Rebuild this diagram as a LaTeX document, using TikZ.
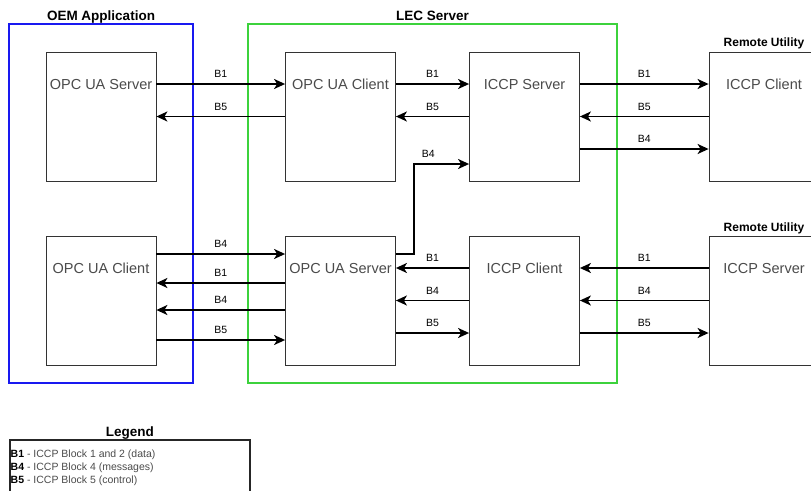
\documentclass[tikz,border=0pt]{standalone}
\usepackage{fontspec}
\setmainfont{Liberation Sans}
\usetikzlibrary{arrows.meta,positioning,calc}
\definecolor{oemBlue}{RGB}{25,25,240}
\definecolor{lecGreen}{RGB}{60,210,60}
\definecolor{boxText}{RGB}{75,75,75}

\begin{document}
\begin{tikzpicture}[
  x=1pt, y=-1pt,
  group/.style={line width=1.6pt, inner sep=0pt, minimum height=359pt},
  grptitle/.style={anchor=base, yshift=3pt, inner sep=0pt,
                   font=\fontsize{13.5}{16}\selectfont\bfseries},
  remtitle/.style={grptitle, font=\fontsize{12}{14}\selectfont\bfseries},
  unittext/.style={anchor=center, yshift=-32.5pt, inner sep=0pt, text=boxText,
                   font=\fontsize{14.5}{17}\selectfont},
  unit/.style={draw=black!80, line width=0.8pt, fill=white, inner sep=0pt,
               minimum width=110pt, minimum height=129pt,
               label={[unittext]north:#1}},
  flow/.style={line width=1.7pt, -{Stealth[length=11pt,width=10pt,inset=3pt]}},
  blk/.style={font=\fontsize{10.5}{12}\selectfont, inner sep=2pt, above=3.5pt},
]

\useasboundingbox (0,0) rectangle (811,490);
\clip (0,0) rectangle (811,490);

% ---------- groups ----------
\node[group, draw=oemBlue, minimum width=184pt,
      label={[grptitle]north:OEM Application}] (oem) at (101,203.5) {};
\node[group, draw=lecGreen, minimum width=369pt,
      label={[grptitle]north:LEC Server}] (lec) at (432.5,203.5) {};

% ---------- units ----------
\node[unit=OPC UA Server] (oemSrv) at (101,116.5) {};
\node[unit=OPC UA Client] (oemCli) at (101,300.5) {};
\node[unit=OPC UA Client] (lecCli) at (340.5,116.5) {};
\node[unit=ICCP Server]   (lecIccpSrv) at (524.5,116.5) {};
\node[unit=OPC UA Server] (lecSrv) at (340.5,300.5) {};
\node[unit=ICCP Client]   (lecIccpCli) at (524.5,300.5) {};
\node[unit=ICCP Client, label={[remtitle, yshift=2pt]north:Remote Utility}]
      (remCli) at (764,116.5) {};
\node[unit=ICCP Server, label={[remtitle, yshift=1pt]north:Remote Utility}]
      (remSrv) at (764,300.5) {};

% ---------- upper flows ----------
\draw[flow] ([yshift=32.5pt]oemSrv.east) -- ([yshift=32.5pt]lecCli.west) node[blk, midway] {B1};
\draw[flow] (lecCli.west) -- (oemSrv.east) node[blk, midway] {B5};
\draw[flow] ([yshift=32.5pt]lecCli.east) -- ([yshift=32.5pt]lecIccpSrv.west) node[blk, midway] {B1};
\draw[flow] (lecIccpSrv.west) -- (lecCli.east) node[blk, midway] {B5};
\draw[flow] ([yshift=32.5pt]lecIccpSrv.east) -- ([yshift=32.5pt]remCli.west) node[blk, midway] {B1};
\draw[flow] (remCli.west) -- (lecIccpSrv.east) node[blk, midway] {B5};
\draw[flow] ([yshift=-32.5pt]lecIccpSrv.east) -- ([yshift=-32.5pt]remCli.west) node[blk, midway] {B4};

% ---------- lower flows ----------
\draw[flow] ([yshift=46.5pt]oemCli.east) -- ([yshift=46.5pt]lecSrv.west) node[blk, midway] {B4};
\draw[flow] ([yshift=17.5pt]lecSrv.west) -- ([yshift=17.5pt]oemCli.east) node[blk, midway] {B1};
\draw[flow] ([yshift=-9.5pt]lecSrv.west) -- ([yshift=-9.5pt]oemCli.east) node[blk, midway] {B4};
\draw[flow] ([yshift=-39.5pt]oemCli.east) -- ([yshift=-39.5pt]lecSrv.west) node[blk, midway] {B5};

\draw[flow] ([yshift=32.5pt]lecIccpCli.west) -- ([yshift=32.5pt]lecSrv.east) node[blk, midway] {B1};
\draw[flow] (lecIccpCli.west) -- (lecSrv.east) node[blk, midway] {B4};
\draw[flow] ([yshift=-32.5pt]lecSrv.east) -- ([yshift=-32.5pt]lecIccpCli.west) node[blk, midway] {B5};

\draw[flow] ([yshift=32.5pt]remSrv.west) -- ([yshift=32.5pt]lecIccpCli.east) node[blk, midway] {B1};
\draw[flow] (remSrv.west) -- (lecIccpCli.east) node[blk, midway] {B4};
\draw[flow] ([yshift=-32.5pt]lecIccpCli.east) -- ([yshift=-32.5pt]remSrv.west) node[blk, midway] {B5};

% messages up to the ICCP server
\draw[flow] ([yshift=46.5pt]lecSrv.east) -- ++(18,0) |- ([yshift=-47.5pt]lecIccpSrv.west)
  node[blk, pos=0.63] {B4};

% ---------- legend ----------
\node[draw=black!85, line width=1.8pt, inner sep=0pt, anchor=north west,
      minimum width=240pt, minimum height=70pt,
      label={[grptitle]north:Legend}] (legend) at (9,439) {};
\node[anchor=north west, align=left, inner sep=0pt, text=boxText,
      font=\fontsize{10.5}{13}\selectfont] (legText) at ([xshift=1.5pt,yshift=-10.5pt]legend.north west)
  {\textcolor{black}{\textbf{B1}} - ICCP Block 1 and 2 (data)\\
   \textcolor{black}{\textbf{B4}} - ICCP Block 4 (messages)\\
   \textcolor{black}{\textbf{B5}} - ICCP Block 5 (control)};

\end{tikzpicture}
\end{document}
